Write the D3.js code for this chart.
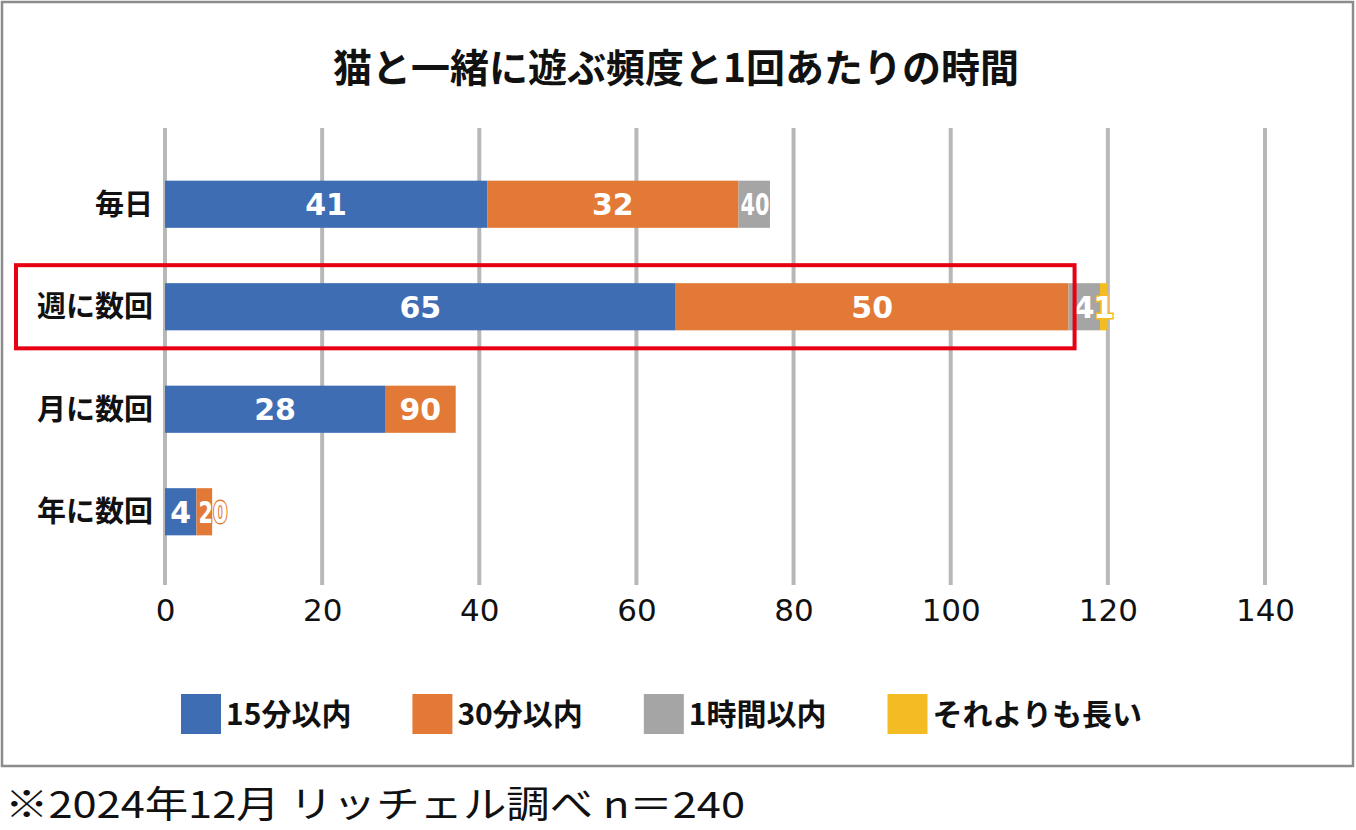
<!DOCTYPE html>
<html>
<head>
<meta charset="utf-8">
<script src="https://cdn.jsdelivr.net/npm/d3@7"></script>
<style>
  html, body { margin: 0; padding: 0; background: #fff; }
  svg { display: block; }
</style>
</head>
<body>
<svg id="chart" width="1356" height="830"></svg>
<script>
(function(){
    "use strict";

    var title = "猫と一緒に遊ぶ頻度と1回あたりの時間";
    var note = "※2024年12月 リッチェル調べ n＝240";
    var categories = ["毎日", "週に数回", "月に数回", "年に数回"];
    var seriesNames = ["15分以内", "30分以内", "1時間以内", "それよりも長い"];
    var seriesColors = ["#3f6db4", "#e37936", "#a5a5a5", "#f3bc22"];
    // one array per series, same order as categories
    var within15 = [41, 65, 28, 4];
    var within30 = [32, 50, 9, 2];
    var within60 = [4, 4, 0, 0];
    var longer = [0, 1, 0, 0];
    var xTicks = [0, 20, 40, 60, 80, 100, 120, 140];
    var highlightCategory = "週に数回";

    var seriesValues = [within15, within30, within60, longer];

    var svg = d3.select("#chart");
    var left = 165, right = 1265;

    var x = d3.scaleLinear().domain([0, 140]).range([left, right]);
    var y = d3.scaleBand().domain(categories).range([153, 563]).paddingInner(0.54).paddingOuter(0.27);

    // outer frame
    svg.append("rect")
        .attr("x", 2).attr("y", 2)
        .attr("width", 1351).attr("height", 764)
        .attr("fill", "#fff")
        .attr("stroke", "#8c8c8c")
        .attr("stroke-width", 2.5);

    svg.append("text")
        .attr("x", 676).attr("y", 82)
        .attr("text-anchor", "middle")
        .attr("font-family", "'Noto Sans CJK JP', sans-serif")
        .attr("font-weight", 700)
        .attr("font-size", 39)
        .attr("fill", "#111")
        .text(title);

    // vertical gridlines
    svg.append("g").selectAll("line")
        .data(xTicks)
        .enter().append("line")
        .attr("x1", function(d){ return x(d); })
        .attr("x2", function(d){ return x(d); })
        .attr("y1", 128).attr("y2", 585)
        .attr("stroke", "#b8b8b8")
        .attr("stroke-width", 4);

    // x axis labels
    var xAxis = d3.axisBottom(x).tickValues(xTicks).tickSize(0).tickPadding(0);
    var gx = svg.append("g").attr("transform", "translate(0,599)").call(xAxis);
    gx.select(".domain").remove();
    gx.selectAll("text")
        .attr("font-family", "'DejaVu Sans', sans-serif")
        .attr("font-size", 31)
        .attr("fill", "#111")
        .attr("dy", "0.72em");

    // category labels
    var yAxis = d3.axisLeft(y).tickSize(0).tickPadding(12);
    var gy = svg.append("g").attr("transform", "translate(" + left + ",0)").call(yAxis);
    gy.select(".domain").remove();
    gy.selectAll("text")
        .attr("font-family", "'Noto Sans CJK JP', sans-serif")
        .attr("font-weight", 700)
        .attr("font-size", 29)
        .attr("fill", "#111")
        .attr("dy", "0.36em");

    // stacked segments
    var rows = categories.map(function(c, i){
        var obj = {category: c};
        seriesNames.forEach(function(s, j){ obj[s] = seriesValues[j][i]; });
        return obj;
    });
    var stacked = d3.stack().keys(seriesNames)(rows);

    var layers = svg.append("g").selectAll("g")
        .data(stacked)
        .enter().append("g")
        .attr("fill", function(d, i){ return seriesColors[i]; });

    layers.selectAll("rect")
        .data(function(d){ return d; })
        .enter().append("rect")
        .attr("x", function(d){ return x(d[0]); })
        .attr("y", function(d){ return y(d.data.category); })
        .attr("width", function(d){ return x(d[1]) - x(d[0]); })
        .attr("height", y.bandwidth());

    // data labels: a zero segment's label sits on top of the previous one
    var labels = [];
    stacked.forEach(function(layer, j){
        layer.forEach(function(d, i){
            var v = seriesValues[j][i];
            if(v === 0) return;
            var txt = String(v);
            if(j + 1 < seriesValues.length && seriesValues[j + 1][i] === 0){
                txt += "0";
            }
            labels.push({txt: txt, x0: x(d[0]), x1: x(d[1]), cat: d.data.category, color: seriesColors[j]});
        });
    });

    var lab = svg.append("g").selectAll("text")
        .data(labels)
        .enter().append("text")
        .attr("y", function(d){ return y(d.cat) + y.bandwidth() / 2; })
        .attr("dy", "0.36em")
        .attr("font-family", "'DejaVu Sans', sans-serif")
        .attr("font-weight", 700)
        .attr("font-size", 30)
        .attr("fill", "#fff")
        .attr("stroke", function(d){ return d.color; })
        .attr("stroke-width", 3)
        .attr("paint-order", "stroke")
        .text(function(d){ return d.txt; });

    lab.each(function(d){
        var t = d3.select(this);
        var w = this.getComputedTextLength();
        var segW = d.x1 - d.x0;
        if(d.txt.length > 1 && w > segW - 4){
            t.attr("text-anchor", "start")
             .attr("x", d.x0 + 2)
             .attr("textLength", 29)
             .attr("lengthAdjust", "spacingAndGlyphs");
        } else {
            t.attr("text-anchor", "middle").attr("x", (d.x0 + d.x1) / 2);
        }
    });

    // highlight box around one row
    var hi = categories.indexOf(highlightCategory);
    svg.append("rect")
        .attr("x", 16)
        .attr("y", y(highlightCategory) - 18)
        .attr("width", x(within15[hi] + within30[hi]) + 6 - 16)
        .attr("height", y.bandwidth() + 36)
        .attr("fill", "none")
        .attr("stroke", "#e60012")
        .attr("stroke-width", 4);

    // legend
    var legend = svg.append("g").attr("transform", "translate(181,694)");
    var lx = 0;
    seriesNames.forEach(function(s, i){
        var g = legend.append("g").attr("transform", "translate(" + lx + ",0)");
        g.append("rect")
            .attr("width", 40).attr("height", 40)
            .attr("fill", seriesColors[i]);
        var t = g.append("text")
            .attr("x", 45).attr("y", 20)
            .attr("dy", "0.36em")
            .attr("font-family", "'Noto Sans CJK JP', sans-serif")
            .attr("font-weight", 700)
            .attr("font-size", 30)
            .attr("fill", "#111")
            .text(s);
        lx += 45 + t.node().getComputedTextLength() + 61;
    });

    svg.append("text")
        .attr("x", 5).attr("y", 818)
        .attr("font-family", "'Noto Sans CJK JP', sans-serif")
        .attr("font-size", 37)
        .attr("fill", "#111")
        .attr("textLength", 740)
        .attr("lengthAdjust", "spacingAndGlyphs")
        .text(note);
}());
</script>
</body>
</html>
